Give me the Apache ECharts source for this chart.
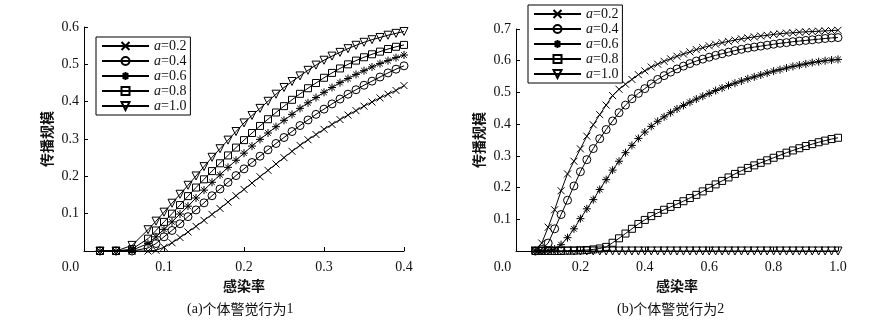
<!DOCTYPE html>
<html>
<head>
<meta charset="utf-8">
<script src="https://cdn.jsdelivr.net/npm/echarts@6/dist/echarts.min.js"></script>
<style>html,body{margin:0;padding:0;background:#fff}#c{width:891px;height:322px}</style>
</head>
<body>
<div id="c"></div>
<script>
// ---- Data ----
var seriesNames = ['a=0.2', 'a=0.4', 'a=0.6', 'a=0.8', 'a=1.0'];

var xLeft = [0.02,0.04,0.06,0.08,0.09,0.10,0.11,0.12,0.13,0.14,0.15,0.16,0.17,0.18,0.19,0.20,0.21,0.22,0.23,0.24,0.25,0.26,0.27,0.28,0.29,0.30,0.31,0.32,0.33,0.34,0.35,0.36,0.37,0.38,0.39,0.40];
var leftA02 = [0,0,0,0, 0.002,0.01,0.022,0.036,0.051,0.066,0.082,0.098,0.114,0.131, 0.148,0.165,0.182,0.199,0.216,0.233,0.25,0.267,0.283,0.298, 0.312,0.326,0.339,0.352,0.364,0.376,0.388,0.399,0.41,0.42, 0.43,0.443];
var leftA04 = [0,0,0,0.008, 0.02,0.038,0.055,0.073,0.092,0.11,0.129,0.148,0.166,0.184, 0.202,0.22,0.237,0.254,0.271,0.288,0.304,0.32,0.336,0.351, 0.366,0.38,0.394,0.407,0.42,0.432,0.444,0.455,0.466,0.477, 0.487,0.496];
var leftA06 = [0,0,0.002,0.02, 0.038,0.058,0.078,0.099,0.12,0.142,0.163,0.184,0.204,0.224, 0.243,0.262,0.281,0.299,0.316,0.333,0.35,0.366,0.382,0.397, 0.411,0.425,0.438,0.451,0.462,0.473,0.483,0.493,0.502,0.51, 0.518,0.525];
var leftA08 = [0,0,0.005,0.033, 0.055,0.078,0.1,0.123,0.147,0.17,0.192,0.214,0.235,0.256, 0.277,0.297,0.316,0.335,0.353,0.371,0.388,0.405,0.421,0.436, 0.45,0.464,0.477,0.489,0.5,0.51,0.519,0.527,0.534,0.541, 0.547,0.552];
var leftA10 = [0,0,0.015,0.057, 0.08,0.104,0.128,0.152,0.176,0.201,0.226,0.251,0.274,0.297, 0.32,0.343,0.363,0.382,0.401,0.42,0.438,0.454,0.469,0.484, 0.498,0.511,0.522,0.532,0.542,0.551,0.559,0.566,0.572,0.578, 0.583,0.588];

var xRight = [0.06,0.08,0.10,0.12,0.14,0.16,0.18,0.20,0.22,0.24,0.26,0.28,0.30,0.32,0.34,0.36,0.38,0.40,0.42,0.44,0.46,0.48,0.50,0.52,0.54,0.56,0.58,0.60,0.62,0.64,0.66,0.68,0.70,0.72,0.74,0.76,0.78,0.80,0.82,0.84,0.86,0.88,0.90,0.92,0.94,0.96,0.98,1.00];
var rightA02 = [0.003,0.025,0.075,0.13,0.19,0.243,0.283,0.322,0.362,0.398, 0.43,0.46,0.49,0.51,0.526,0.541,0.556,0.568,0.58,0.589, 0.598,0.606,0.614,0.621,0.628,0.635,0.641,0.647,0.652,0.657, 0.661,0.665,0.669,0.672,0.675,0.678,0.68,0.683,0.685,0.687, 0.688,0.69,0.691,0.692,0.693,0.694,0.695,0.696];
var rightA04 = [0,0.005,0.025,0.07,0.115,0.16,0.205,0.25,0.288,0.323, 0.354,0.383,0.41,0.436,0.46,0.48,0.497,0.512,0.527,0.541, 0.553,0.564,0.574,0.583,0.591,0.599,0.605,0.611,0.617,0.622, 0.627,0.632,0.636,0.64,0.643,0.646,0.649,0.652,0.655,0.657, 0.66,0.662,0.664,0.666,0.668,0.67,0.672,0.673];
var rightA06 = [0,0,0.002,0.006,0.02,0.042,0.07,0.102,0.133,0.162, 0.194,0.225,0.255,0.283,0.31,0.333,0.355,0.375,0.393,0.409, 0.423,0.436,0.448,0.459,0.469,0.479,0.488,0.497,0.506,0.514, 0.522,0.529,0.536,0.543,0.549,0.555,0.561,0.567,0.572,0.577, 0.582,0.586,0.59,0.594,0.597,0.6,0.602,0.604];
var rightA08 = [0,0,0,0,0,0.001,0.001,0.002,0.003,0.005, 0.008,0.013,0.026,0.04,0.055,0.07,0.085,0.098,0.11,0.12, 0.13,0.139,0.148,0.157,0.167,0.177,0.188,0.199,0.21,0.221, 0.232,0.243,0.253,0.262,0.27,0.278,0.286,0.294,0.302,0.31, 0.317,0.324,0.331,0.337,0.343,0.348,0.353,0.357];
var rightA10 = [0,0,0,0,0,0,0,0,0,0, 0,0,0,0,0,0,0,0,0,0, 0,0,0,0,0,0,0,0,0,0, 0,0,0,0,0,0,0,0,0,0, 0,0,0,0,0,0,0,0];

var leftXTicks = [0.0, 0.1, 0.2, 0.3, 0.4];
var leftYTicks = [0.1, 0.2, 0.3, 0.4, 0.5, 0.6];
var rightXTicks = [0.0, 0.2, 0.4, 0.6, 0.8, 1.0];
var rightYTicks = [0.1, 0.2, 0.3, 0.4, 0.5, 0.6, 0.7];
var yAxisName = '传播规模';
var xAxisName = '感染率';
var captionTags = ['(a)', '(b)'];
var captionText = '个体警觉行为';
var captionNums = ['1', '2'];

// ---- Rendering ----
var SERIF = '"Liberation Serif", "DejaVu Serif", serif';
var CJK = '"Noto Sans CJK SC", sans-serif';
var INK = '#111';

var symbols = [
  'path://M0 0 L10 10 M10 0 L0 10',
  'circle',
  'path://M5 0 L5 10 M0 5 L10 5 M1.5 1.5 L8.5 8.5 M8.5 1.5 L1.5 8.5',
  'rect',
  'path://M0 0 L10 0 L5 8.66 Z'
];
var symSizes = [7, 8, 8, 7, 8];

function pairs(xs, ys) { return xs.map(function (x, i) { return [x, ys[i]]; }); }

var leftSets = [leftA02, leftA04, leftA06, leftA08, leftA10];
var rightSets = [rightA02, rightA04, rightA06, rightA08, rightA10];

var series = [];
function addSeries(sets, xs, idx) {
  sets.forEach(function (ys, k) {
    series.push({
      type: 'line',
      name: seriesNames[k],
      xAxisIndex: idx, yAxisIndex: idx,
      data: pairs(xs, ys),
      symbol: symbols[k],
      symbolSize: symSizes[k],
      showSymbol: true,
      lineStyle: { color: '#000', width: 1 },
      itemStyle: { color: 'rgba(255,255,255,0)', borderColor: '#000', borderWidth: 1 },
      emphasis: { disabled: true },
      z: 2 + k
    });
  });
}
addSeries(leftSets, xLeft, 0);
addSeries(rightSets, xRight, 1);

function xFmt(v) {
  if (Math.abs(v) < 1e-9) return '{z|0.0}';
  return v.toFixed(1);
}
function yFmt(v) {
  if (Math.abs(v) < 1e-9) return '';
  return v.toFixed(1);
}

function xAxis(idx, max, interval) {
  return {
    type: 'value', gridIndex: idx, min: 0, max: max, interval: interval,
    name: xAxisName, nameLocation: 'middle', nameGap: 27,
    nameTextStyle: { fontFamily: CJK, fontSize: 14, fontWeight: 'bold', color: INK },
    axisLine: { show: true, lineStyle: { color: '#000', width: 1 } },
    axisTick: { show: true, inside: true, length: 4, lineStyle: { color: '#000' } },
    splitLine: { show: false },
    axisLabel: {
      formatter: xFmt, margin: 9, fontFamily: SERIF, fontSize: 14, color: INK,
      rich: { z: { fontFamily: SERIF, fontSize: 14, color: INK, padding: [0, 27, 0, 0] } }
    }
  };
}
function yAxis(idx, max) {
  return {
    type: 'value', gridIndex: idx, min: 0, max: max, interval: 0.1,
    name: yAxisName, nameLocation: 'middle', nameGap: 30,
    nameTextStyle: { fontFamily: CJK, fontSize: 14, fontWeight: 'bold', color: INK },
    axisLine: { show: true, lineStyle: { color: '#000', width: 1 } },
    axisTick: { show: true, inside: true, length: 4, lineStyle: { color: '#000' } },
    splitLine: { show: false },
    axisLabel: { formatter: yFmt, margin: 5, fontFamily: SERIF, fontSize: 14, color: INK }
  };
}

function legend(left, top) {
  return {
    orient: 'vertical', left: left, top: top,
    data: seriesNames,
    selectedMode: false,
    backgroundColor: '#fff',
    borderColor: '#000', borderWidth: 1,
    padding: [2, 4, 2, 5],
    itemWidth: 47, itemHeight: 10, itemGap: 1,
    formatter: function (n) { return '{i|a}' + n.slice(1); },
    textStyle: {
      fontFamily: SERIF, fontSize: 14, color: INK, lineHeight: 14,
      rich: { i: { fontFamily: SERIF, fontSize: 14, fontStyle: 'italic', color: INK, lineHeight: 14 } }
    }
  };
}

function caption(i, left) {
  return {
    type: 'text', left: left, top: 302,
    style: {
      text: '{s|' + captionTags[i] + '}{c|' + captionText + '}{s|' + captionNums[i] + '}',
      rich: {
        s: { fontFamily: SERIF, fontSize: 14, fill: INK },
        c: { fontFamily: CJK, fontSize: 14, fill: INK }
      }
    }
  };
}

var chart = echarts.init(document.getElementById('c'), null, { renderer: 'canvas' });
chart.setOption({
  animation: false,
  backgroundColor: '#fff',
  grid: [
    { left: 84, top: 27, width: 320, height: 224 },
    { left: 516, top: 29, width: 322, height: 222 }
  ],
  xAxis: [xAxis(0, 0.4, 0.1), xAxis(1, 1.0, 0.2)],
  yAxis: [yAxis(0, 0.6), yAxis(1, 0.7)],
  legend: [legend(96, 37), legend(528, 5)],
  series: series,
  graphic: [caption(0, 187), caption(1, 617)]
});
</script>
</body>
</html>
